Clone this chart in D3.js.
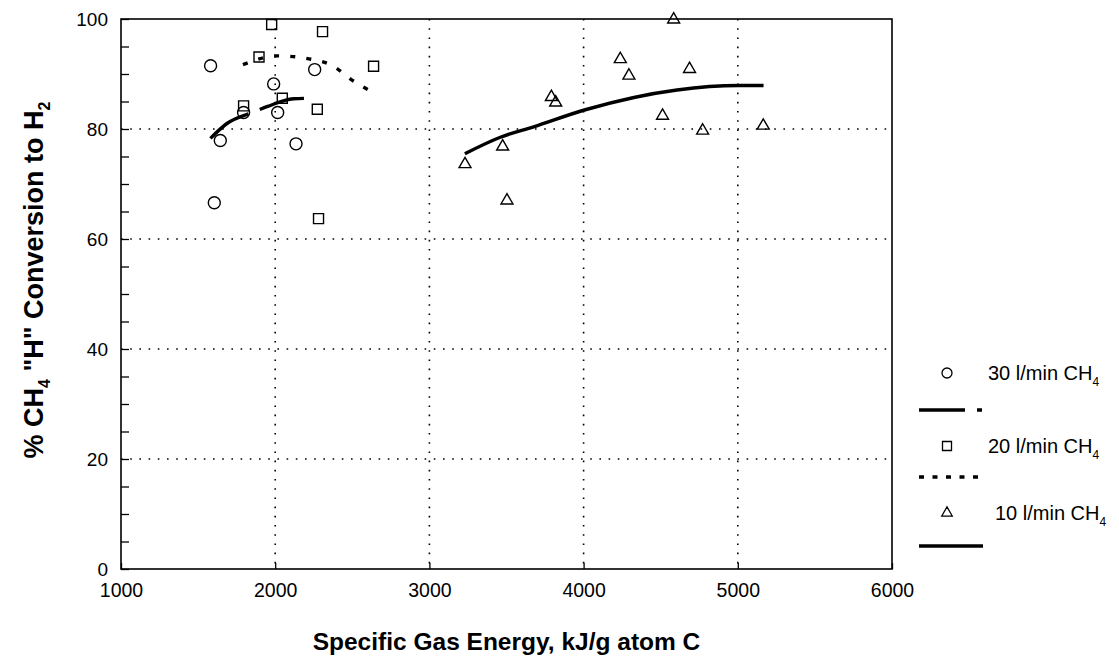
<!DOCTYPE html>
<html>
<head>
<meta charset="utf-8">
<script src="https://cdn.jsdelivr.net/npm/d3@7"></script>
<style>
  html, body { margin: 0; padding: 0; background: #fff; }
  svg { display: block; font-family: "Liberation Sans", Arial, sans-serif; }
</style>
</head>
<body>
<svg id="chart" width="1119" height="658"></svg>
<script>
// 30 l/min CH4 runs
const flow30Energy = [1581, 1990, 2256, 1795, 2016, 1644, 2135, 1605];
const flow30Conv   = [91.5, 88.2, 90.8, 83.0, 83.0, 77.9, 77.3, 66.6];
// 20 l/min CH4 runs
const flow20Energy = [1977, 2307, 1895, 2638, 2046, 1795, 2273, 2281];
const flow20Conv   = [99.0, 97.7, 93.1, 91.4, 85.6, 84.2, 83.6, 63.7];
// 10 l/min CH4 runs
const flow10Energy = [4584, 4238, 4294, 4687, 3791, 3819, 4512, 4772, 5165, 3475, 3231, 3503];
const flow10Conv   = [99.9, 92.7, 89.7, 90.9, 85.8, 84.8, 82.4, 79.7, 80.6, 76.8, 73.6, 67.0];

// fitted trend curves
const fit30Energy = [1580, 1687, 1871, 1951, 2119, 2249];
const fit30Conv   = [78.3, 81.0, 83.2, 84.1, 85.5, 85.6];
const fit20Energy = [1791, 2012, 2249, 2379, 2487, 2612];
const fit20Conv   = [91.7, 93.3, 92.6, 91.4, 89.1, 87.0];
const fit10Energy = [3230, 3460, 3676, 4011, 4606, 5005, 5167];
const fit10Conv   = [75.5, 78.5, 80.4, 83.5, 87.1, 87.9, 87.9];

const xTicks = [1000, 2000, 3000, 4000, 5000, 6000];
const yTicks = [0, 20, 40, 60, 80, 100];
const yMinorTicks = d3.range(0, 101, 5);

const legendLabels = ["30 l/min CH", "20 l/min CH", "10 l/min CH"];

const svg = d3.select("#chart");
const x = d3.scaleLinear().domain([1000, 6000]).range([121, 892]);
const y = d3.scaleLinear().domain([0, 100]).range([569, 19]);

const zip = (a, b) => a.map((v, i) => [v, b[i]]);

// dotted grid
const grid = svg.append("g").attr("stroke", "#000").attr("stroke-width", 1.6)
  .attr("stroke-dasharray", "1.6,7.6");
grid.selectAll(".gx").data(xTicks.slice(1, -1)).join("line")
  .attr("x1", d => x(d)).attr("x2", d => x(d))
  .attr("y1", y(100)).attr("y2", y(0));
grid.selectAll(".gy").data(yTicks.slice(1, -1)).join("line")
  .attr("x1", x(1000)).attr("x2", x(6000))
  .attr("y1", d => y(d)).attr("y2", d => y(d));

// axes with inward ticks
const yAxis = d3.axisLeft(y).tickValues(yMinorTicks).tickSize(-8)
  .tickFormat(d => yTicks.includes(d) ? d : "");
const gy = svg.append("g").attr("transform", `translate(${x(1000)},0)`).call(yAxis);
gy.select(".domain").remove();
gy.selectAll("line").attr("stroke-width", 1.3);
gy.selectAll("text").attr("x", -13).attr("font-size", 19).attr("fill", "#000")
  .attr("font-family", "Liberation Sans, Arial, sans-serif");

const xAxis = d3.axisBottom(x).tickValues(xTicks).tickSize(-6).tickFormat(d => d);
const gx = svg.append("g").attr("transform", `translate(0,${y(0)})`).call(xAxis);
gx.select(".domain").remove();
gx.selectAll("line").attr("stroke-width", 1.3);
gx.selectAll("text").attr("y", 14).attr("dy", "0.71em").attr("font-size", 19.5).attr("fill", "#000")
  .attr("font-family", "Liberation Sans, Arial, sans-serif");

// frame
svg.append("rect")
  .attr("x", x(1000)).attr("y", y(100))
  .attr("width", x(6000) - x(1000)).attr("height", y(0) - y(100))
  .attr("fill", "none").attr("stroke", "#000").attr("stroke-width", 1.6);

// trend curves
const line = d3.line().x(d => x(d[0])).y(d => y(d[1])).curve(d3.curveMonotoneX);
svg.append("path").datum(zip(fit30Energy, fit30Conv)).attr("d", line)
  .attr("fill", "none").attr("stroke", "#000").attr("stroke-width", 3.4)
  .attr("stroke-dasharray", "46,12");
svg.append("path").datum(zip(fit20Energy, fit20Conv)).attr("d", line)
  .attr("fill", "none").attr("stroke", "#000").attr("stroke-width", 3.4)
  .attr("stroke-dasharray", "5,11.2");
svg.append("path").datum(zip(fit10Energy, fit10Conv)).attr("d", line)
  .attr("fill", "none").attr("stroke", "#000").attr("stroke-width", 3.4);

// markers
const circleSym = d3.symbol().type(d3.symbolCircle).size(Math.PI * 6 * 6);
const squareSym = d3.symbol().type(d3.symbolSquare).size(10 * 10);
const triSym = d3.symbol().type(d3.symbolTriangle).size(62);

function drawPoints(xs, ys, sym) {
  svg.append("g").selectAll("path").data(zip(xs, ys)).join("path")
    .attr("transform", d => `translate(${x(d[0])},${y(d[1])})`)
    .attr("d", sym)
    .attr("fill", "none").attr("stroke", "#000").attr("stroke-width", 1.4);
}
drawPoints(flow30Energy, flow30Conv, circleSym);
drawPoints(flow20Energy, flow20Conv, squareSym);
drawPoints(flow10Energy, flow10Conv, triSym);

// axis titles
svg.append("text")
  .attr("x", (x(1000) + x(6000)) / 2).attr("y", 650)
  .attr("text-anchor", "middle").attr("font-size", 24.5).attr("font-weight", "bold")
  .text("Specific Gas Energy, kJ/g atom C");

const yt = svg.append("text")
  .attr("transform", "translate(43,280) rotate(-90)")
  .attr("text-anchor", "middle").attr("font-size", 27).attr("font-weight", "bold");
yt.append("tspan").text("% CH");
yt.append("tspan").attr("font-size", 16).attr("dy", 7).text("4");
yt.append("tspan").attr("dy", -7).text(" \"H\" Conversion to H");
yt.append("tspan").attr("font-size", 16).attr("dy", 7).text("2");

// legend
const legend = svg.append("g");
const legendSyms = [
  d3.symbol().type(d3.symbolCircle).size(Math.PI * 5 * 5),
  d3.symbol().type(d3.symbolSquare).size(9 * 9),
  d3.symbol().type(d3.symbolTriangle).size(48)
];
const legendRowY = [373, 446, 513];
const legendTextX = [988, 988, 995];
legendLabels.forEach((lab, i) => {
  legend.append("path").attr("d", legendSyms[i])
    .attr("transform", `translate(947,${legendRowY[i]})`)
    .attr("fill", "none").attr("stroke", "#000").attr("stroke-width", 1.3);
  const t = legend.append("text").attr("x", legendTextX[i]).attr("y", legendRowY[i])
    .attr("dy", "0.35em").attr("font-size", 20);
  t.append("tspan").text(lab);
  t.append("tspan").attr("font-size", 12).attr("dy", 6).text("4");
});
legend.append("line").attr("x1", 919).attr("x2", 983).attr("y1", 410).attr("y2", 410)
  .attr("stroke", "#000").attr("stroke-width", 3.4).attr("stroke-dasharray", "46,12,5,100");
legend.append("line").attr("x1", 919).attr("x2", 978).attr("y1", 477).attr("y2", 477)
  .attr("stroke", "#000").attr("stroke-width", 3.4).attr("stroke-dasharray", "5,8.5");
legend.append("line").attr("x1", 919).attr("x2", 983).attr("y1", 546).attr("y2", 546)
  .attr("stroke", "#000").attr("stroke-width", 3.4);
</script>
</body>
</html>
